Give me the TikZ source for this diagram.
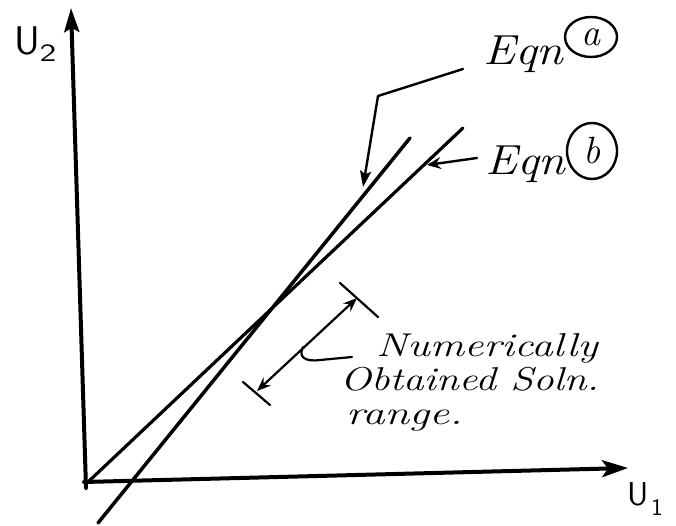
\documentclass[tikz,border=0pt]{standalone}
\usetikzlibrary{arrows.meta,shapes.geometric}
\begin{document}
\begin{tikzpicture}[x=1pt,y=-1pt,
  axis/.style={line width=4pt,line cap=round},
  graphline/.style={line width=3.5pt,line cap=round},
  leader/.style={line width=2.4pt,line cap=round,line join=round},
  rangeline/.style={line width=2.2pt,line cap=round},
  hand/.style={inner sep=0pt,font=\fontsize{42}{42}\selectfont\itshape},
  note/.style={inner sep=0pt,font=\fontsize{33}{33}\selectfont\itshape},
  axlabel/.style={inner sep=0pt,font=\fontsize{40}{40}\selectfont\sffamily},
  circ/.style={draw,line width=2.4pt,ellipse,inner sep=0pt,font=\fontsize{38}{38}\selectfont\itshape}]
\useasboundingbox (0,0) rectangle (676,526);
% axes
\coordinate (ybot) at (86,488);
\coordinate (ytop) at (71,8);
\coordinate (xstart) at (84,482);
\coordinate (xtip) at (628,468);
\draw[axis,-{Stealth[length=24pt,width=15pt,inset=4pt]}] (ybot) -- (ytop);
\draw[axis,-{Stealth[length=26pt,width=17pt,inset=6pt]}] (xstart) -- (xtip);
\node[axlabel,anchor=base west] (u2) at (14,55) {U\raisebox{-7pt}{\fontsize{25}{25}\selectfont\scalebox{1.4}[1]{2}}};
\node[axlabel,anchor=base west,font=\fontsize{33}{33}\selectfont\sffamily] (u1) at (627,505) {U\hspace{3pt}\raisebox{-10pt}{\fontsize{24}{24}\selectfont 1}};
% the two equation lines
\coordinate (aS) at (98,523);
\coordinate (aE) at (410,138);
\coordinate (bS) at (88,482);
\coordinate (bE) at (463,128);
\draw[graphline] (aS) -- (aE);
\draw[graphline,line width=3.2pt] (bS) -- (bE);
% Eqn a label
\node[hand,anchor=base west] (eqa) at (483,65) {\scalebox{1.15}[1]{Eqn}};
\node[circ,minimum width=52pt,minimum height=40pt] (ca) at (591,37) {a};
\coordinate (la0) at (463,69);
\coordinate (la1) at (378,96);
\coordinate (la2) at (363,187);
\draw[leader,-{Stealth[length=16pt,width=11pt,inset=3pt]}] (la0) -- (la1) -- (la2);
% Eqn b label
\node[hand,anchor=base west] (eqb) at (485,175) {\scalebox{1.15}[1]{Eqn}};
\node[circ,minimum width=50pt,minimum height=56pt] (cb) at (592,151) {b};
\coordinate (lb0) at (477,158);
\coordinate (lb1) at (427,165);
\draw[leader,-{Stealth[length=14pt,width=12pt,inset=5pt]}] (lb0) -- (lb1);
% solution range
\coordinate (t1a) at (340,283);
\coordinate (t1b) at (378,317);
\coordinate (t2a) at (243,382);
\coordinate (t2b) at (270,405);
\coordinate (r1) at (357,298);
\coordinate (r2) at (257,391);
\draw[rangeline] (t1a) -- (t1b);
\draw[rangeline] (t2a) -- (t2b);
\draw[rangeline,{Stealth[length=14pt,width=11pt,inset=5pt]}-{Stealth[length=14pt,width=11pt,inset=5pt]}] (r2) -- (r1);
\coordinate (h0) at (303,347);
\coordinate (h1) at (352,357);
\draw[rangeline] (h0) .. controls (298,357) and (305,362) .. (320,360) -- (h1);
\node[note,anchor=base west] (n1) at (376,356) {\scalebox{1.3}[1]{Numerically}};
\node[note,anchor=base west] (n2) at (340,390) {\scalebox{1.25}[1]{Obtained Soln.}};
\node[note,anchor=base west] (n3) at (346,424) {\scalebox{1.35}[1]{range.}};
\end{tikzpicture}
\end{document}
